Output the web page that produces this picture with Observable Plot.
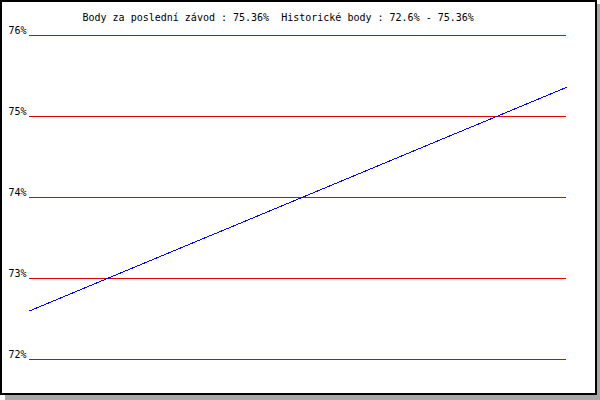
<!DOCTYPE html>
<html>
<head>
<meta charset="utf-8">
<script src="https://cdn.jsdelivr.net/npm/d3@7"></script>
<script src="https://cdn.jsdelivr.net/npm/@observablehq/plot@0.6"></script>
<style>
  html, body { margin: 0; padding: 0; background: #fff; }
  #wrap { position: relative; width: 600px; height: 400px; overflow: hidden; }
  #wrap svg { position: absolute; left: 0; top: 0; }
  .frame { position: absolute; left: 0; top: 0; width: 597px; height: 395px; box-sizing: border-box; border: 2px solid #000; }
  .shR { position: absolute; left: 597px; top: 4px; width: 3px; height: 396px; background: #a8a8a8; }
  .shB { position: absolute; left: 5px; top: 395px; width: 595px; height: 5px; background: #a8a8a8; }
</style>
</head>
<body>
<div id="wrap"></div>
<script>
// Data
const races = [1, 2];
const points = [72.6, 75.36];
const yTicks = [72, 73, 74, 75, 76];
const titleText = "Body za poslední závod : 75.36%  Historické body : 72.6% - 75.36%";

const series = races.map((r, i) => ({race: r, value: points[i]}));

const chart = Plot.plot({
  width: 600,
  height: 400,
  marginLeft: 29,
  marginRight: 34,
  marginTop: 35,
  marginBottom: 41,
  style: {fontFamily: "'DejaVu Sans Mono', monospace", fontSize: "10px", background: "transparent", color: "#000"},
  x: {domain: [1, 2], axis: null},
  y: {domain: [72, 76], axis: null},
  marks: [
    Plot.ruleY(yTicks, {stroke: "#e00000", strokeWidth: 1, shapeRendering: "crispEdges"}),
    Plot.axisY(yTicks, {tickSize: 0, tickPadding: 3, tickFormat: d => d + "%", dy: -5, fill: "#000", fontSize: 10, label: null}),
    Plot.line(series, {x: "race", y: "value", stroke: "#0000ff", strokeWidth: 1, shapeRendering: "crispEdges"}),
    Plot.text([titleText], {frameAnchor: "top-left", textAnchor: "start", dx: 53, dy: -22, fill: "#000", fontSize: 10, lineAnchor: "top"})
  ]
});

const wrap = document.getElementById("wrap");
wrap.appendChild(chart);
for (const c of ["frame", "shR", "shB"]) {
  const d = document.createElement("div");
  d.className = c;
  wrap.appendChild(d);
}
</script>
</body>
</html>
